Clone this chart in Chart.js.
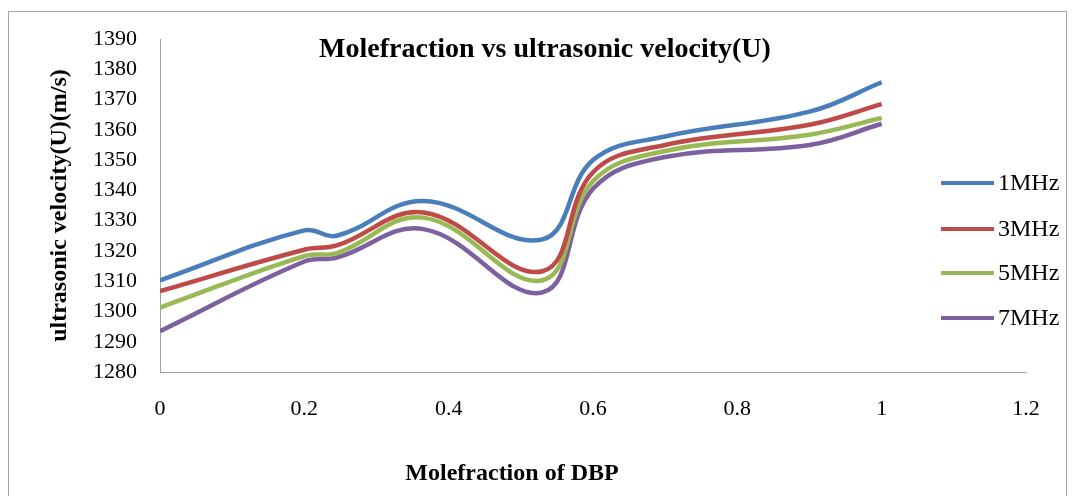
<!DOCTYPE html>
<html>
<head>
<meta charset="utf-8">
<script src="https://cdn.jsdelivr.net/npm/chart.js@4.4.1/dist/chart.umd.min.js"></script>
<style>
  html, body { margin: 0; padding: 0; background: #fff; }
  #wrap { position: relative; width: 1076px; height: 496px; overflow: hidden; }
  #frame { position: absolute; left: 8px; top: 11px; width: 1059px; height: 520px; border: 1px solid #a6a6a6; box-sizing: border-box; }
  canvas { position: absolute; left: 0; top: 0; }
  .ttl { position: absolute; font-family: "Liberation Serif", "Times New Roman", serif; font-weight: bold; color: #000; line-height: 1; white-space: nowrap; transform: translateX(-50%); }
  #legend { position: absolute; left: 941px; top: 0; font-family: "Liberation Serif", serif; font-size: 24px; color: #000; }
  .li { position: absolute; left: 0; white-space: nowrap; line-height: 1; }
  .li span.ln { position: absolute; left: 0; width: 53px; height: 4px; }
  .li span.tx { position: absolute; left: 57px; }
</style>
</head>
<body>
<div id="wrap">
  <div id="frame"></div>
  <canvas id="c" width="1076" height="496"></canvas>
  <div class="ttl" id="title" style="left:545px; top:34px; font-size:28px;">Molefraction vs ultrasonic velocity(U)</div>
  <div class="ttl" id="xtitle" style="left:512px; top:460px; font-size:24px;">Molefraction of DBP</div>
  <div id="legend"></div>
</div>
<script>
// ---- data ----
const moleFraction = [0, 0.2, 0.245, 0.365, 0.53, 0.6, 0.7, 0.9, 1.0];
const u1MHz = [1310.3, 1326.8, 1325.0, 1336.5, 1323.8, 1350.0, 1357.8, 1366.0, 1375.7];
const u3MHz = [1306.7, 1320.4, 1321.8, 1332.7, 1313.3, 1346.0, 1355.0, 1361.7, 1368.5];
const u5MHz = [1301.3, 1318.3, 1319.3, 1331.0, 1310.3, 1343.0, 1353.0, 1358.4, 1363.9];
const u7MHz = [1293.5, 1316.5, 1317.8, 1327.2, 1306.3, 1340.5, 1351.0, 1355.0, 1362.0];
const seriesLabels = ["1MHz", "3MHz", "5MHz", "7MHz"];
const seriesColors = ["#4A7EBB", "#BE4B48", "#98B954", "#7D60A0"];
const yTicks = { min: 1280, max: 1390, step: 10 };
const xTicks = { min: 0, max: 1.2, step: 0.2 };

const allSeries = [u1MHz, u3MHz, u5MHz, u7MHz];
const datasets = allSeries.map((vals, i) => ({
  label: seriesLabels[i],
  data: moleFraction.map((x, j) => ({ x: x, y: vals[j] })),
  borderColor: seriesColors[i],
  backgroundColor: seriesColors[i],
  borderWidth: 4.5,
  pointRadius: 0,
  showLine: true,
  tension: 0.4,
  fill: false
}));

const axisColor = "#a0a0a0";
const tickFont = { family: "'Liberation Serif', serif", size: 22 };

new Chart(document.getElementById("c"), {
  type: "scatter",
  data: { datasets },
  options: {
    responsive: false,
    animation: false,
    layout: { padding: { top: 39, right: 50, bottom: 0, left: 0 } },
    plugins: { legend: { display: false }, title: { display: false }, tooltip: { enabled: false } },
    scales: {
      x: {
        type: "linear",
        min: xTicks.min, max: xTicks.max,
        grid: { display: false, drawTicks: false },
        border: { display: true, color: axisColor, width: 1 },
        ticks: {
          stepSize: xTicks.step, padding: 24, color: "#000", font: tickFont,
          maxRotation: 0,
          callback: v => String(Number(v.toFixed(1)))
        },
        afterFit: s => { s.height = 124; }
      },
      y: {
        type: "linear",
        min: yTicks.min, max: yTicks.max,
        grid: { display: false, drawTicks: false },
        border: { display: true, color: axisColor, width: 1 },
        ticks: { stepSize: yTicks.step, padding: 23, color: "#000", font: tickFont,
          callback: v => String(Math.round(v)) },
        title: {
          display: true,
          text: "ultrasonic velocity(U)(m/s)",
          color: "#000",
          font: { family: "'Liberation Serif', serif", size: 24, weight: "bold" },
          padding: { top: 45, bottom: 0 }
        },
        afterFit: s => { s.width = 160; }
      }
    }
  }
});

// HTML legend built from the datasets
const legendTops = [183, 229, 273, 318];
const lg = document.getElementById("legend");
datasets.forEach((d, i) => {
  const row = document.createElement("div");
  row.className = "li";
  row.style.top = legendTops[i] + "px";
  const ln = document.createElement("span");
  ln.className = "ln";
  ln.style.background = d.borderColor;
  ln.style.top = "-2px";
  const tx = document.createElement("span");
  tx.className = "tx";
  tx.style.top = "-13px";
  tx.textContent = d.label;
  row.appendChild(ln); row.appendChild(tx);
  lg.appendChild(row);
});
</script>
</body>
</html>
